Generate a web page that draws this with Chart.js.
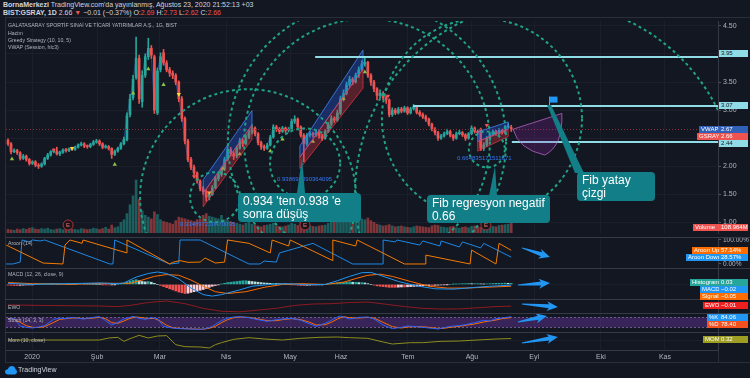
<!DOCTYPE html>
<html>
<head>
<meta charset="utf-8">
<script src="https://cdn.jsdelivr.net/npm/chart.js@4.4.0/dist/chart.umd.min.js"></script>
<style>
body{margin:0;background:#131722;width:750px;height:378px;overflow:hidden;position:relative;font-family:"Liberation Sans",Arial,sans-serif;}
canvas{position:absolute;left:0}
.t{position:absolute;white-space:nowrap}
.hdr{left:3px;font-size:7px;color:#d1d4dc}
.leg{left:8px;font-size:5.2px;color:#b2b5be}
.ln{position:absolute;background:#2a2e39}
.tag{position:absolute;font-size:6px;line-height:7px;height:7px;color:#fff;white-space:nowrap;padding:0 2px;box-sizing:border-box}
.val{left:719px;width:29px}
.call{position:absolute;background:#127f88;color:#fff;font-size:12px;line-height:13px;border-radius:4px;padding:2px 5px;box-sizing:border-box;white-space:nowrap}
.fib{position:absolute;font-size:6px;color:#3179f5;white-space:nowrap}
.red{color:#ef5350}
</style>
</head>
<body>
<div class="t hdr" style="top:1px"><b>BornaMerkezi</b> TradingView.com'da yayınlanmış, Ağustos 23, 2020 21:52:13 +03</div>
<div class="t hdr" style="top:9px"><b>BIST:GSRAY, 1D</b> 2.66 <span class="red">▼</span> −0.01 (−0.37%) O:<span class="red">2.69</span> H:<span class="red">2.73</span> L:<span class="red">2.62</span> C:<span class="red">2.66</span></div>

<canvas id="cMain" width="750" height="220" style="top:17px"></canvas>
<canvas id="cAroon" width="750" height="31" style="top:237px"></canvas>
<canvas id="cMacd" width="750" height="31" style="top:268px"></canvas>
<canvas id="cEwo" width="750" height="14" style="top:299px"></canvas>
<canvas id="cStoch" width="750" height="19" style="top:313px"></canvas>
<canvas id="cMom" width="750" height="30" style="top:332px"></canvas>

<div class="ln" style="left:5px;top:17px;width:745px;height:1px"></div>
<div class="ln" style="left:5px;top:17px;width:1px;height:345px"></div>
<div class="ln" style="left:5px;top:362px;width:745px;height:1px"></div>
<div class="ln" style="left:718px;top:350px;width:1px;height:12px"></div>
<div class="ln" style="left:5px;top:237px;width:745px;height:1px;background:#363a45"></div>
<div class="ln" style="left:5px;top:268px;width:745px;height:1px;background:#363a45"></div>
<div class="ln" style="left:5px;top:299px;width:745px;height:1px;background:#363a45"></div>
<div class="ln" style="left:5px;top:313px;width:745px;height:1px;background:#363a45"></div>
<div class="ln" style="left:5px;top:332px;width:745px;height:1px;background:#363a45"></div>

<div class="t leg" style="top:22px">GALATASARAY SPORTİF SINAİ VE TİCARİ YATIRIMLAR A.Ş., 1G, BIST</div>
<div class="t leg" style="top:30px">Hacim</div>
<div class="t leg" style="top:37px">Greedy Strategy (10, 10, 5)</div>
<div class="t leg" style="top:44px">VWAP (Session, hlc3)</div>
<div class="t leg" style="top:240px">Aroon (14)</div>
<div class="t leg" style="top:271px">MACD (12, 26, close, 9)</div>
<div class="t leg" style="top:304px">EWO</div>
<div class="t leg" style="top:317px">Stoch (14, 3, 3)</div>
<div class="t leg" style="top:337px">Mom (10, close)</div>

<div class="fib" style="left:180px;top:221px">0.934897210470095</div>
<div class="fib" style="left:277px;top:176px">0.938690390364095</div>
<div class="fib" style="left:457px;top:155px">0.664835171511671</div>

<svg width="750" height="378" style="position:absolute;left:0;top:0">
  <polygon points="297,193 305,193 302,157" fill="#127f88"/>
  <polygon points="489,196 497,196 495,166" fill="#127f88"/>
  <polygon points="547,105 551,105 584,173 575,173" fill="#127f88"/>
</svg>
<div class="call" style="left:238px;top:193px;width:123px;height:29px">0.934 'ten 0.938 'e<br>sonra düşüş</div>
<div class="call" style="left:427px;top:195px;width:123px;height:28px">Fib regresyon negatif<br>0.66</div>
<div class="call" style="left:577px;top:172px;width:78px;height:29px">Fib yatay<br>çizgi</div>

<div class="tag val" style="top:50px;background:#8fdbe6;color:#131722">3.95</div>
<div class="tag val" style="top:102px;background:#8fdbe6;color:#131722">3.07</div>
<div class="tag" style="left:699px;top:126px;width:20px;background:#3060b8">VWAP</div>
<div class="tag val" style="top:126px;background:#3060b8">2.67</div>
<div class="tag" style="left:697px;top:133px;width:22px;background:#ef5350">GSRAY</div>
<div class="tag val" style="top:133px;background:#ef5350">2.66</div>
<div class="tag val" style="top:140px;background:#8fdbe6;color:#131722">2.44</div>
<div class="tag" style="left:693px;top:224px;width:26px;background:#ef5350">Volume</div>
<div class="tag val" style="top:224px;background:#ef5350">108.964M</div>
<div class="tag" style="left:692px;top:247px;width:27px;background:#ff6d00">Aroon Up</div>
<div class="tag val" style="top:247px;background:#ff6d00">57.14%</div>
<div class="tag" style="left:686px;top:254px;width:33px;background:#2196f3">Aroon Down</div>
<div class="tag val" style="top:254px;background:#2196f3">28.57%</div>
<div class="tag" style="left:690px;top:279px;width:29px;background:#26a69a">Histogram</div>
<div class="tag val" style="top:279px;background:#26a69a">0.03</div>
<div class="tag" style="left:700px;top:286px;width:19px;background:#2196f3">MACD</div>
<div class="tag val" style="top:286px;background:#2196f3">−0.02</div>
<div class="tag" style="left:700px;top:293px;width:19px;background:#ff6d00">Signal</div>
<div class="tag val" style="top:293px;background:#ff6d00">−0.05</div>
<div class="tag" style="left:703px;top:302px;width:16px;background:#f01f1f">EWO</div>
<div class="tag val" style="top:302px;background:#f01f1f">−0.01</div>
<div class="tag" style="left:707px;top:314px;width:12px;background:#2196f3">%K</div>
<div class="tag val" style="top:314px;background:#2196f3">84.06</div>
<div class="tag" style="left:707px;top:321px;width:12px;background:#f4511e">%D</div>
<div class="tag val" style="top:321px;background:#f4511e">78.40</div>
<div class="tag" style="left:703px;top:336px;width:16px;background:#9e9d24">MOM</div>
<div class="tag val" style="top:336px;background:#9e9d24">0.32</div>

<svg width="12" height="9" style="position:absolute;left:5px;top:366px" viewBox="0 0 12 9"><path d="M3 8.5C1.3 8.5 0 7.3 0 5.8S1.2 3.2 2.8 3.2C3.3 1.4 4.8 0 6.7 0c2.1 0 3.8 1.6 3.9 3.6 0.9 0.4 1.4 1.2 1.4 2.2 0 1.5-1.2 2.7-2.8 2.7z" fill="#2196f3"/></svg>
<div class="t" style="left:18px;top:366px;font-size:7px;color:#d1d4dc">TradingView</div>

<script>
// --- data (x = bar index, ~mid-Dec 2019 .. 21 Aug 2020) ---
const monthLabels = ['2020','Şub','Mar','Nis','May','Haz','Tem','Ağu','Eyl','Eki','Kas'];
const monthIdx = [7.9, 29.2, 49.8, 71.5, 92.5, 109.2, 131.1, 152.1, 172.5, 194.4, 215.4];

const opens = [2.46,2.40,2.26,2.28,2.24,2.14,2.18,2.12,2.05,2.08, 2.02,2.00,2.04,2.14,2.20,2.26,2.27,2.22,2.25,2.29,
  2.28,2.31,2.30,2.34,2.38,2.40,2.36,2.35,2.39,2.43, 2.45,2.40,2.34,2.35,2.32,2.21,2.27,2.32,2.40,2.47,
  2.92,3.22,3.58,3.92,3.15,3.62,3.95,4.10,3.95,2.95, 3.72,4.02,3.84,3.72,3.66,3.62,3.50,3.20,2.85,2.45,
  2.12,1.98,1.88,1.74,1.60,1.55,1.45,1.50,1.62,1.78, 1.85,1.95,2.12,2.30,2.22,2.18,2.32,2.45,2.40,2.52,
  2.60,2.68,2.58,2.42,2.35,2.32,2.38,2.52,2.70,2.66, 2.62,2.68,2.64,2.66,2.80,2.84,2.70,2.55,2.40,2.55,
  2.58,2.56,2.60,2.54,2.50,2.62,2.75,2.85,2.82,2.95, 3.20,3.30,3.45,3.55,3.50,3.62,3.72,3.82,3.85,3.62,
  3.50,3.38,3.26,3.30,3.22,3.18,2.92,3.00,2.95,3.02, 2.98,3.04,2.95,3.02,3.06,2.96,2.92,2.88,2.84,2.75,
  2.66,2.60,2.50,2.54,2.58,2.62,2.55,2.50,2.58,2.60, 2.56,2.50,2.58,2.68,2.62,2.66,2.32,2.38,2.50,2.56,
  2.62,2.58,2.64,2.60,2.70,2.69];
const highs = [2.49,2.42,2.31,2.30,2.26,2.21,2.20,2.14,2.10,2.10, 2.05,2.06,2.16,2.23,2.28,2.31,2.34,2.27,2.31,2.32,
  2.33,2.34,2.36,2.40,2.43,2.42,2.38,2.41,2.46,2.48, 2.47,2.42,2.38,2.37,2.33,2.29,2.34,2.42,2.52,2.95,
  3.28,3.62,4.30,3.98,3.70,4.00,4.28,4.15,3.98,3.75, 4.02,4.08,3.88,3.76,3.70,3.65,3.52,3.24,2.88,2.48,
  2.16,2.02,1.90,1.76,1.64,1.58,1.54,1.66,1.82,1.90, 1.99,2.16,2.35,2.34,2.26,2.36,2.50,2.48,2.56,2.64,
  2.74,2.70,2.60,2.45,2.38,2.41,2.55,2.74,2.73,2.69, 2.71,2.70,2.69,2.84,2.90,2.86,2.72,2.58,2.58,2.62,
  2.61,2.63,2.63,2.57,2.65,2.78,2.90,2.88,3.00,3.25, 3.36,3.50,3.60,3.58,3.66,3.77,3.88,3.94,3.87,3.65,
  3.53,3.40,3.36,3.33,3.25,3.20,3.04,3.03,3.05,3.05, 3.07,3.06,3.05,3.10,3.08,2.99,2.95,2.91,2.86,2.77,
  2.69,2.62,2.57,2.61,2.66,2.64,2.57,2.61,2.64,2.62, 2.58,2.60,2.72,2.70,2.65,2.68,2.42,2.53,2.59,2.65,
  2.64,2.67,2.66,2.73,2.76,2.73];
const lows = [2.37,2.22,2.24,2.21,2.11,2.12,2.09,2.02,2.03,1.99, 1.96,1.98,2.02,2.12,2.18,2.24,2.20,2.19,2.23,2.25,
  2.26,2.28,2.28,2.32,2.36,2.33,2.32,2.33,2.37,2.41, 2.37,2.31,2.32,2.29,2.14,2.19,2.25,2.30,2.38,2.45,
  2.88,3.18,3.55,3.12,3.05,3.58,3.90,3.92,2.94,2.92, 3.68,3.80,3.68,3.60,3.56,3.45,3.15,2.80,2.40,2.08,
  1.94,1.84,1.70,1.56,1.50,1.38,1.40,1.48,1.60,1.74, 1.82,1.92,2.10,2.18,2.12,2.15,2.30,2.35,2.38,2.49,
  2.57,2.54,2.38,2.30,2.28,2.30,2.36,2.50,2.62,2.58, 2.60,2.60,2.61,2.64,2.76,2.66,2.52,2.08,2.36,2.52,
  2.52,2.53,2.50,2.46,2.48,2.60,2.72,2.78,2.80,2.92, 3.16,3.27,3.42,3.45,3.48,3.58,3.70,3.78,3.58,3.44,
  3.33,3.18,3.22,3.18,3.12,2.88,2.89,2.92,2.93,2.95, 2.96,2.92,2.93,3.00,2.93,2.89,2.85,2.80,2.72,2.63,
  2.56,2.46,2.48,2.52,2.56,2.52,2.46,2.48,2.56,2.53, 2.46,2.48,2.56,2.59,2.57,2.28,2.28,2.35,2.48,2.54,
  2.55,2.56,2.57,2.58,2.68,2.62];
const closes = [2.40,2.26,2.28,2.24,2.14,2.18,2.12,2.05,2.08,2.02, 2.00,2.04,2.14,2.20,2.26,2.27,2.22,2.25,2.29,2.28,
  2.31,2.30,2.34,2.38,2.40,2.36,2.35,2.39,2.43,2.45, 2.40,2.34,2.35,2.32,2.21,2.27,2.32,2.40,2.48,2.90,
  3.20,3.55,3.92,3.20,3.62,3.95,4.10,3.98,3.00,3.70, 3.95,3.84,3.72,3.66,3.62,3.50,3.20,2.85,2.45,2.12,
  1.98,1.88,1.74,1.60,1.55,1.45,1.50,1.62,1.78,1.85, 1.95,2.12,2.30,2.22,2.18,2.32,2.45,2.40,2.52,2.60,
  2.68,2.58,2.42,2.35,2.32,2.38,2.52,2.70,2.66,2.62, 2.68,2.64,2.66,2.80,2.84,2.70,2.55,2.40,2.55,2.58,
  2.56,2.60,2.54,2.50,2.62,2.75,2.85,2.82,2.95,3.20, 3.30,3.45,3.55,3.50,3.62,3.72,3.82,3.85,3.62,3.50,
  3.38,3.26,3.30,3.22,3.18,2.92,3.00,2.95,3.02,2.98, 3.04,2.95,3.02,3.06,2.96,2.92,2.88,2.84,2.75,2.66,
  2.60,2.50,2.54,2.58,2.62,2.55,2.50,2.58,2.60,2.56, 2.50,2.58,2.68,2.62,2.60,2.32,2.38,2.50,2.56,2.62,
  2.58,2.64,2.60,2.70,2.72,2.66];
const volumes = [40,35,30,45,38,50,42,55,60,45, 40,50,45,55,40,35,45,50,38,42, 60,45,40,35,50,45,38,42,55,48,
  40,50,65,45,90,60,70,120,150,220, 320,420,600,380,250,200,180,160,240,210, 150,130,120,110,100,140,180,170,160,150,
  140,130,150,160,200,220,190,180,170,160, 200,150,140,130,120,110,100,90,110,120, 100,90,80,70,85,90,100,110,80,75,
  70,80,90,110,100,85,120,180,90,80, 75,70,80,85,90,110,160,220,200,210, 180,170,160,150,180,190,160,150,170,140,
  120,100,90,80,85,95,80,70,75,80, 70,65,60,70,80,75,70,65,60,80, 90,85,70,65,60,70,75,60,55,65,
  70,60,75,80,70,65,110,90,80,75, 70,85,90,95,100,109];

// Greedy strategy markers
const upIdx = [1.3, 35, 41, 46, 51, 70.5, 76, 86, 90, 100, 110, 117];
const upPrice = [2.13, 2.03, 3.30, 3.73, 3.45, 1.96, 2.22, 2.27, 2.48, 2.44, 3.20, 3.68];
const dnIdx = [15, 21, 56, 61, 66, 124.6, 157];
const dnPrice = [2.29, 2.32, 3.28, 1.82, 1.53, 3.25, 2.73];
const dnColor = ['#ef5350','#fdd835','#fdd835','#ef5350','#fdd835','#ef5350','#ef5350'];

// drawings on the price pane
const levelPrice = [3.95, 3.07, 2.44];
const levelStart = [100.7, 132.8, 165.2];
const chanI0 = [64, 95.7, 154], chanI1 = [80, 116.4, 164];
const chanTop0 = [1.76, 2.36, 2.61], chanTop1 = [2.99, 4.07, 2.79];
const chanBot0 = [1.28, 1.96, 2.27], chanBot1 = [2.48, 3.39, 2.53];
const circIdx = [78.7, 117.7, 117.7, 155.4, 176.4, 157, 67.9, 97.4];
const circPrice = [1.45, 2.44, 2.44, 2.85, 1.52, 2.30, 1.45, 2.05];
const circRad = [35.4, 40.3, 45.6, 32.8, 62.6, 5.9, 8.2, 11.5];
const fcIdx = [165.6, 181.6, 182, 176, 167.4];
const fcPrice = [2.66, 2.94, 2.36, 2.20, 2.30];
const earnIdx = [19.7, 97.4, 156.7];

// indicators (key points: [bar, value])
const aroonUp = [[-0.6,79],[11.5,4],[18,0],[18.7,79],[20.3,100],[24.3,86],[24.6,100],[39,46],[39,100],[53,0],[54,7],[56.4,14],[59,7],[63,8],[64.6,25],[68,4],[71,8],[72,100],[79,86],[86,46],[86.6,100],[92,75],[92.5,100],[106.5,14],[106.5,100],[114,75],[114.5,100],[130,0],[137,0],[137,37],[151.5,0],[152,58],[160,0],[161,86],[165,57.14]];
const aroonDown = [[-0.6,0],[1.6,0],[4,8],[4.6,100],[7,92],[8,100],[10.5,96],[12,100],[33.4,0],[34.4,0],[35,100],[53,0],[56,4],[56.4,100],[63,100],[79,0],[82.6,0],[84,12],[88,8],[89,46],[100,86],[113,0],[123,0],[123,100],[127,92],[127.5,100],[135,79],[136,96],[141.6,75],[142,96],[148,71],[149,92],[155,67],[156,86],[165,28.57]];
const macdHist = [-0.02,-0.025,-0.03,-0.03,-0.025,-0.02,-0.015,-0.01,-0.005,
  0.005,0.01,0.015,0.02,0.02,0.018,0.015,0.012,0.01,0.012,0.015,0.014,0.012,0.01,0.012,0.014,0.012,0.01,0.008,0.006,0.004,0.002,-0.002,-0.006,-0.01,-0.008,-0.004,0,
  0.01,0.03,0.06,0.09,0.11,0.13,0.1,0.08,0.07,0.08,0.06,0.03,0.0,
  -0.03,-0.06,-0.09,-0.12,-0.15,-0.18,-0.21,-0.23,-0.25,-0.24,
  -0.22,-0.2,-0.18,-0.16,-0.14,-0.11,-0.08,-0.05,-0.03,-0.01,
  0.01,0.03,0.05,0.06,0.07,0.08,0.09,0.1,0.1,0.09,0.08,
  0.07,0.06,0.05,0.04,0.035,0.03,0.03,0.025,0.02,0.015,0.01,
  0,-0.005,-0.01,-0.02,-0.03,-0.03,-0.025,-0.02,-0.02,-0.015,-0.01,-0.005,0,0.01,0.02,
  0.03,0.04,0.05,0.06,0.06,0.07,0.06,0.06,0.05,0.05,0.04,0.02,0.0,-0.02,
  -0.04,-0.05,-0.06,-0.07,-0.08,-0.08,-0.08,-0.075,-0.07,-0.07,-0.065,-0.06,-0.055,-0.05,-0.045,-0.04,
  -0.035,-0.03,-0.03,-0.025,-0.02,-0.015,-0.01,-0.005,0,0.005,
  0.01,0.015,0.02,0.02,0.025,0.02,0.02,0.02,0.015,0.01,0.015,0.02,0.025,0.03,0.03,0.03,0.035,0.03,0.03];
const macdLine = [[0,0.03],[8,0.0],[20,0.02],[30,0.04],[36,0.02],[38,0.04],[42,0.2],[46,0.3],[49,0.34],[52,0.3],[56,0.15],[60,-0.1],[64,-0.28],[67,-0.32],[70,-0.28],[76,-0.15],[80,-0.05],[86,0.0],[92,0.02],[98,-0.01],[104,0.0],[108,0.1],[112,0.22],[116,0.32],[119,0.33],[122,0.25],[128,0.08],[134,-0.04],[140,-0.12],[146,-0.13],[152,-0.09],[158,-0.05],[165,-0.02]];
const signalLine = [[0,0.05],[8,0.02],[20,0.0],[30,0.03],[36,0.03],[40,0.03],[44,0.12],[48,0.22],[52,0.27],[56,0.25],[60,0.12],[64,-0.05],[68,-0.2],[72,-0.25],[78,-0.2],[84,-0.08],[90,0.0],[96,0.02],[104,0.0],[110,0.06],[114,0.16],[118,0.25],[122,0.28],[126,0.22],[132,0.08],[138,-0.05],[144,-0.1],[150,-0.1],[156,-0.08],[165,-0.05]];
const ewo = [[0,0.1],[10,0.05],[30,0.0],[36,-0.05],[40,0.05],[46,0.3],[52,0.43],[58,0.2],[64,-0.2],[70,-0.45],[76,-0.5],[82,-0.35],[88,-0.2],[94,0.05],[100,0.17],[106,0.2],[112,0.3],[118,0.34],[124,0.15],[130,-0.05],[136,-0.2],[142,-0.26],[148,-0.25],[154,-0.15],[160,-0.05],[165,-0.01]];
const stochK = [[0,68],[2,74],[4,28],[6,20],[8,16],[10,22],[12,30],[15,68],[17,75],[19,72],[21,80],[23,74],[25,70],[27,78],[30,84],[32,60],[34,34],[36,50],[38,70],[40,80],[41,86],[43,74],[45,68],[47,78],[49,72],[51,26],[53,18],[56,12],[60,10],[63,8],[65,12],[67,26],[70,60],[72,76],[74,82],[76,84],[79,78],[82,66],[85,56],[88,66],[90,70],[93,74],[96,62],[99,40],[101,26],[104,44],[106,62],[108,82],[109,88],[112,70],[115,80],[118,82],[120,70],[123,34],[126,12],[129,20],[131,28],[134,24],[137,18],[141,10],[143,18],[145,26],[148,30],[150,36],[153,48],[156,62],[158,58],[160,72],[162,76],[165,84.06]];
const stochD = [[0,72],[2,70],[4,50],[6,30],[8,20],[10,19],[12,24],[15,50],[17,68],[19,72],[21,76],[23,76],[25,72],[27,74],[30,80],[32,72],[34,48],[36,44],[38,58],[40,74],[42,82],[44,78],[46,72],[48,74],[50,56],[52,32],[54,18],[57,13],[61,10],[64,9],[66,14],[68,26],[70,48],[72,66],[74,78],[76,82],[79,80],[82,70],[85,60],[88,60],[90,66],[93,72],[96,66],[99,50],[101,34],[104,36],[106,50],[108,70],[110,84],[112,78],[115,76],[118,80],[120,76],[123,50],[126,24],[129,16],[131,22],[134,24],[137,22],[141,14],[143,14],[145,20],[148,26],[150,32],[153,40],[156,52],[158,58],[160,64],[162,72],[165,78.4]];
const mom = [[0,0.1],[30,0.1],[33,0.4],[36,0.5],[38,-0.1],[40,0.3],[43,0.8],[46,0.4],[49,0.7],[52,0.75],[55,-0.6],[58,-0.9],[63,-0.95],[66,-1.1],[68,-0.6],[70,-0.3],[74,0.2],[79,0.45],[84,0.25],[90,0.1],[96,0.35],[102,0.5],[108,0.55],[112,0.45],[118,0.35],[123,-0.2],[126,-0.5],[132,-0.3],[136,-0.3],[142,-0.1],[148,-0.05],[156,0.15],[160,0.25],[165,0.32]];

// arrows drawn into the indicator panes: [bar0, value0, bar1, value1]
const arrowAroon = [168.5, 67, 177.7, 29];
const arrowMacd = [167.2, -0.016, 177.7, 0.039];
const arrowEwo = [168.5, 0.17, 180.3, -0.09];
const arrowStoch = [167.2, 52, 176.7, 88];
const arrowMom = [168.5, -0.35, 180.3, 0.55];

// --- setup ---
const xMin = -0.66, xMax = 232.8;
const UP = '#26a69a', DN = '#ef5350';
const idx = closes.map((c, i) => i);
const isUp = idx.map(i => closes[i] >= opens[i]);
const GRID = '#1b1f2b';

function xScale(show) {
  return {
    type: 'linear', min: xMin, max: xMax, offset: false,
    afterBuildTicks: s => { s.ticks = monthIdx.map(v => ({ value: v })); },
    afterFit: s => { s.height = show ? 12 : 0; },
    grid: { color: GRID, drawTicks: false, offset: false },
    border: { display: show, color: '#363a45' },
    ticks: { display: show, color: '#b2b5be', font: { size: 7 }, padding: 3, maxRotation: 0, autoSkip: false,
      callback: (v, k) => monthLabels[k] }
  };
}
function yScale(min, max, extra) {
  return Object.assign({
    position: 'right', min: min, max: max,
    afterFit: s => { s.width = 32; s.paddingTop = 0; s.paddingBottom = 0; },
    grid: { color: GRID, drawTicks: false },
    border: { color: '#363a45' },
    ticks: { display: false }
  }, extra || {});
}
const pts = arr => arr.map(p => ({ x: p[0], y: p[1] }));

function drawArrow(ctx, x0, y0, x1, y1) {
  const dx = x1 - x0, dy = y1 - y0, L = Math.hypot(dx, dy);
  const ux = dx / L, uy = dy / L, nx = -uy, ny = ux;
  const p = (d, w) => [x0 + ux * d + nx * w, y0 + uy * d + ny * w];
  const hb = L - 9;
  const poly = [p(0, 0.4), p(hb, 2), p(hb - 2, 5), p(L, 0), p(hb - 2, -5), p(hb, -2), p(0, -0.4)];
  ctx.fillStyle = '#2196f3';
  ctx.beginPath();
  poly.forEach((q, k) => k ? ctx.lineTo(q[0], q[1]) : ctx.moveTo(q[0], q[1]));
  ctx.closePath(); ctx.fill();
}
function arrowPlugin(a) {
  return {
    id: 'arrow',
    afterDatasetsDraw(chart) {
      const { x, y } = chart.scales;
      drawArrow(chart.ctx, x.getPixelForValue(a[0]), y.getPixelForValue(a[1]),
        x.getPixelForValue(a[2]), y.getPixelForValue(a[3]));
    }
  };
}

const annot = {
  id: 'annot',
  afterDatasetsDraw(chart) {
    const { ctx, chartArea: a, scales: { x, y } } = chart;
    const px = i => x.getPixelForValue(i), py = p => y.getPixelForValue(p);
    ctx.save();
    ctx.beginPath(); ctx.rect(a.left, a.top, a.right - a.left, a.bottom - a.top); ctx.clip();

    // last price line
    const yl = Math.round(py(closes[closes.length - 1])) + 0.5;
    ctx.strokeStyle = '#8c2f35'; ctx.lineWidth = 1; ctx.setLineDash([1, 2]);
    ctx.beginPath(); ctx.moveTo(a.left, yl); ctx.lineTo(a.right, yl); ctx.stroke();
    ctx.setLineDash([]);

    // regression channels
    chanI0.forEach((i0, k) => {
      const i1 = chanI1[k];
      const tl = [px(i0), py(chanTop0[k])], tr = [px(i1), py(chanTop1[k])];
      const bl = [px(i0), py(chanBot0[k])], br = [px(i1), py(chanBot1[k])];
      const ml = [tl[0], (tl[1] + bl[1]) / 2], mr = [tr[0], (tr[1] + br[1]) / 2];
      const poly = (ps, fill, stroke) => {
        ctx.beginPath(); ps.forEach((q, j) => j ? ctx.lineTo(q[0], q[1]) : ctx.moveTo(q[0], q[1]));
        ctx.closePath(); ctx.fillStyle = fill; ctx.fill();
        ctx.strokeStyle = stroke; ctx.lineWidth = 1; ctx.stroke();
      };
      poly([tl, tr, mr, ml], 'rgba(41,98,255,0.30)', 'rgba(66,133,244,0.8)');
      poly([ml, mr, br, bl], 'rgba(242,54,69,0.30)', 'rgba(242,54,69,0.7)');
    });

    // horizontal levels
    ctx.strokeStyle = '#8fdbe6'; ctx.lineWidth = 2;
    levelPrice.forEach((p, k) => {
      const yy = Math.round(py(p));
      ctx.beginPath(); ctx.moveTo(px(levelStart[k]), yy); ctx.lineTo(a.right, yy); ctx.stroke();
    });

    // fib circles
    ctx.strokeStyle = '#1fa286'; ctx.lineWidth = 2; ctx.setLineDash([3, 3]);
    circIdx.forEach((i, k) => {
      const cx = px(i), cy = py(circPrice[k]), r = px(i + circRad[k]) - cx;
      ctx.beginPath(); ctx.arc(cx, cy, r, 0, Math.PI * 2); ctx.stroke();
    });
    ctx.setLineDash([]);

    // forecast cone
    const f = fcIdx.map((i, k) => [px(i), py(fcPrice[k])]);
    ctx.beginPath(); ctx.moveTo(f[0][0], f[0][1]); ctx.lineTo(f[1][0], f[1][1]);
    ctx.quadraticCurveTo(f[2][0], f[2][1], f[3][0], f[3][1]);
    ctx.quadraticCurveTo(f[4][0], f[4][1], f[0][0], f[0][1]);
    ctx.fillStyle = 'rgba(156,39,176,0.22)'; ctx.fill();
    ctx.strokeStyle = 'rgba(186,104,200,0.75)'; ctx.lineWidth = 1; ctx.stroke();

    // flag
    const fx = Math.round(px(177.5)) + 0.5, fy = py(3.08);
    ctx.strokeStyle = '#9aa0aa'; ctx.beginPath(); ctx.moveTo(fx, fy); ctx.lineTo(fx, fy - 9); ctx.stroke();
    ctx.fillStyle = '#2196f3'; ctx.fillRect(fx, fy - 9, 8, 6);

    // earnings markers
    earnIdx.forEach(i => {
      const cx = px(i), cy = a.bottom - 8;
      ctx.beginPath(); ctx.arc(cx, cy, 5, 0, Math.PI * 2);
      ctx.fillStyle = '#1a1419'; ctx.fill(); ctx.strokeStyle = '#a8323a'; ctx.lineWidth = 1; ctx.stroke();
      ctx.fillStyle = '#e57373'; ctx.font = '6px Liberation Sans'; ctx.textAlign = 'center'; ctx.textBaseline = 'middle';
      ctx.fillText('E', cx, cy + 0.5);
    });
    ctx.restore();
  }
};

const common = {
  responsive: false, animation: false, devicePixelRatio: 1, events: [],
  layout: { padding: { left: 6, right: 0, top: 0, bottom: 0 } },
  plugins: { legend: { display: false }, tooltip: { enabled: false } }
};

// price pane
new Chart(document.getElementById('cMain'), {
  type: 'bar',
  data: {
    datasets: [
      { type: 'scatter', data: upIdx.map((v, k) => ({ x: v, y: upPrice[k] })), pointStyle: 'triangle',
        pointRadius: 2.5, backgroundColor: '#8bc34a', borderWidth: 0, order: 1 },
      { type: 'scatter', data: dnIdx.map((v, k) => ({ x: v, y: dnPrice[k] })), pointStyle: 'triangle', rotation: 180,
        pointRadius: 2.5, backgroundColor: dnColor, borderWidth: 0, order: 1 },
      { data: idx.map(i => ({ x: i, y: [opens[i], closes[i]] })), barThickness: 2, minBarLength: 1, grouped: false,
        backgroundColor: idx.map(i => isUp[i] ? UP : DN), order: 3 },
      { data: idx.map(i => ({ x: i, y: [lows[i], highs[i]] })), barThickness: 1, grouped: false,
        backgroundColor: idx.map(i => isUp[i] ? UP : DN), order: 4 },
      { type: 'line', data: idx.map(i => ({ x: i, y: closes[i] })), borderColor: '#22427e', borderWidth: 1,
        pointRadius: 0, order: 5 },
      { data: idx.map(i => ({ x: i, y: volumes[i] })), yAxisID: 'vol', barThickness: 2, grouped: false,
        backgroundColor: idx.map(i => isUp[i] ? 'rgba(38,166,154,0.5)' : 'rgba(239,83,80,0.5)'), order: 9 }
    ]
  },
  options: Object.assign({}, common, {
    scales: {
      x: xScale(false),
      y: yScale(0.812, 4.586, {
        grid: { color: GRID, drawTicks: true, tickLength: 3, tickColor: '#50535e' },
        ticks: { display: true, stepSize: 0.5, includeBounds: false, color: '#b2b5be', font: { size: 7 }, padding: 2,
          callback: v => v.toFixed(2) }
      }),
      vol: { display: false, min: 0, max: 2400 }
    }
  }),
  plugins: [annot]
});

// Aroon
new Chart(document.getElementById('cAroon'), {
  type: 'line',
  data: { datasets: [
    { data: pts(aroonUp), borderColor: '#f57c00', borderWidth: 1, pointRadius: 0 },
    { data: pts(aroonDown), borderColor: '#1e88e5', borderWidth: 1, pointRadius: 0 }
  ] },
  options: Object.assign({}, common, { scales: {
    x: xScale(false),
    y: yScale(-16.7, 112.5, {
      afterBuildTicks: s => { s.ticks = [{ value: 0 }, { value: 100 }]; },
      grid: { color: 'rgba(0,0,0,0)', drawTicks: true, tickLength: 3, tickColor: '#50535e' },
      ticks: { display: true, color: '#b2b5be', font: { size: 6.5 }, padding: 2, callback: v => v.toFixed(2) + '%' }
    })
  } }),
  plugins: [arrowPlugin(arrowAroon)]
});

// MACD
const histColor = macdHist.map((h, i) => {
  const prev = i ? macdHist[i - 1] : h;
  if (h >= 0) return h >= prev ? '#26a69a' : '#b2dfdb';
  return h <= prev ? '#ef5350' : '#ffcdd2';
});
new Chart(document.getElementById('cMacd'), {
  type: 'bar',
  data: { datasets: [
    { type: 'line', data: pts(macdLine), borderColor: '#2196f3', borderWidth: 1, pointRadius: 0, order: 1 },
    { type: 'line', data: pts(signalLine), borderColor: '#ff6d00', borderWidth: 1, pointRadius: 0, order: 2 },
    { data: idx.map(i => ({ x: i, y: macdHist[i] })), barThickness: 2, backgroundColor: histColor, order: 3 }
  ] },
  options: Object.assign({}, common, { scales: { x: xScale(false), y: yScale(-0.4, 0.45) } }),
  plugins: [arrowPlugin(arrowMacd)]
});

// EWO
new Chart(document.getElementById('cEwo'), {
  type: 'line',
  data: { datasets: [{ data: pts(ewo), borderColor: '#8e1b22', borderWidth: 1, pointRadius: 0 }] },
  options: Object.assign({}, common, { scales: { x: xScale(false), y: yScale(-0.6, 0.6) } }),
  plugins: [arrowPlugin(arrowEwo)]
});

// Stoch with 20-80 band
const band = {
  id: 'band',
  beforeDatasetsDraw(chart) {
    const { ctx, chartArea: a, scales: { y } } = chart;
    const y80 = y.getPixelForValue(80), y20 = y.getPixelForValue(20);
    ctx.save();
    ctx.fillStyle = 'rgba(126,60,190,0.35)';
    ctx.fillRect(a.left, y80, a.right - a.left, y20 - y80);
    ctx.strokeStyle = '#6b5a8a'; ctx.setLineDash([2, 2]); ctx.lineWidth = 1;
    [y80, y20].forEach(v => { ctx.beginPath(); ctx.moveTo(a.left, Math.round(v) + 0.5); ctx.lineTo(a.right, Math.round(v) + 0.5); ctx.stroke(); });
    ctx.restore();
  }
};
new Chart(document.getElementById('cStoch'), {
  type: 'line',
  data: { datasets: [
    { data: pts(stochK), borderColor: '#2962ff', borderWidth: 1, pointRadius: 0 },
    { data: pts(stochD), borderColor: '#ff6d00', borderWidth: 1, pointRadius: 0 }
  ] },
  options: Object.assign({}, common, { scales: { x: xScale(false), y: yScale(-8, 106) } }),
  plugins: [band, arrowPlugin(arrowStoch)]
});

// Momentum + time axis
new Chart(document.getElementById('cMom'), {
  type: 'line',
  data: { datasets: [{ data: pts(mom), borderColor: '#8f8d1f', borderWidth: 1, pointRadius: 0 }] },
  options: Object.assign({}, common, { scales: { x: xScale(true), y: yScale(-1.4, 1.3) } }),
  plugins: [arrowPlugin(arrowMom)]
});
</script>
</body>
</html>
